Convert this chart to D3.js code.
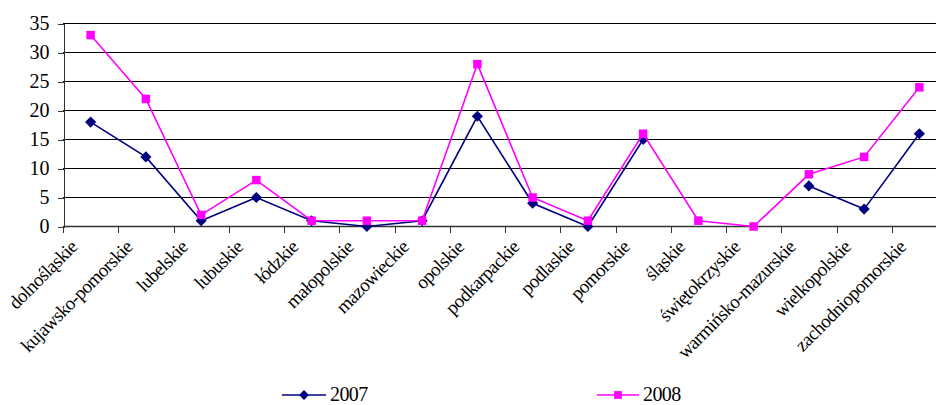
<!DOCTYPE html>
<html>
<head>
<meta charset="utf-8">
<script src="https://cdn.jsdelivr.net/npm/d3@7"></script>
<style>
  html, body { margin: 0; padding: 0; background: #fff; }
  svg { display: block; font-family: "Liberation Serif", "Times New Roman", serif; }
</style>
</head>
<body>
<svg id="chart" width="936" height="405"></svg>
<script>
// Voivodeships (categories)
const categories = [
  "dolnośląskie", "kujawsko-pomorskie", "lubelskie", "lubuskie", "łódzkie",
  "małopolskie", "mazowieckie", "opolskie", "podkarpackie", "podlaskie",
  "pomorskie", "śląskie", "świętokrzyskie", "warmińsko-mazurskie",
  "wielkopolskie", "zachodniopomorskie"
];
// Values per year (null = no value)
const values2007 = [18, 12, 1, 5, 1, 0, 1, 19, 4, 0, 15, null, null, 7, 3, 16];
const values2008 = [33, 22, 2, 8, 1, 1, 1, 28, 5, 1, 16, 1, 0, 9, 12, 24];
const yTicks = [0, 5, 10, 15, 20, 25, 30, 35];
const seriesNames = ["2007", "2008"];

const svg = d3.select("#chart");
const plotLeft = 63, plotRight = 947, plotTop = 23.5, plotBottom = 226.5;

const x = d3.scaleBand().domain(categories).range([plotLeft, plotRight]);
const y = d3.scaleLinear().domain([0, 35]).range([plotBottom, plotTop]);

// Horizontal gridlines
svg.append("g")
  .selectAll("line")
  .data(yTicks.filter(t => t > 0))
  .join("line")
  .attr("x1", plotLeft).attr("x2", plotRight)
  .attr("y1", d => y(d)).attr("y2", d => y(d))
  .attr("stroke", "#000").attr("stroke-width", 1)
  .attr("shape-rendering", "crispEdges");

// Y axis
const yAxis = svg.append("g")
  .attr("transform", `translate(${plotLeft + 0.5},0)`)
  .call(d3.axisLeft(y).tickValues(yTicks).tickSize(6).tickPadding(8));
yAxis.selectAll("path, line").attr("stroke", "#333").attr("shape-rendering", "crispEdges");
yAxis.selectAll("text")
  .attr("font-size", 20).attr("fill", "#000")
  .style("font-family", "'Liberation Serif', serif");

// X axis line with ticks at category boundaries
const xg = svg.append("g");
xg.append("line")
  .attr("x1", plotLeft).attr("x2", plotRight)
  .attr("y1", plotBottom).attr("y2", plotBottom)
  .attr("stroke", "#333").attr("stroke-width", 1.5);
const boundaries = categories.map(c => x(c)).concat([plotRight]);
xg.selectAll("line.tick")
  .data(boundaries)
  .join("line").attr("class", "tick")
  .attr("x1", d => Math.round(d) + 0.5).attr("x2", d => Math.round(d) + 0.5)
  .attr("y1", plotBottom).attr("y2", plotBottom + 6)
  .attr("stroke", "#333").attr("shape-rendering", "crispEdges");

// Rotated category labels
xg.selectAll("text")
  .data(categories)
  .join("text")
  .attr("transform", d => `translate(${x(d) + x.bandwidth() / 2 - 17},${plotBottom + 17}) rotate(-45)`)
  .attr("text-anchor", "end")
  .attr("dy", "0.35em")
  .attr("font-size", 19)
  .attr("letter-spacing", "-0.6px")
  .attr("fill", "#000")
  .text(d => d);

const cx = d => x(d) + x.bandwidth() / 2;

function drawSeries(vals, color, diamond) {
  const pts = categories.map((c, i) => ({ c, v: vals[i] }));
  const line = d3.line()
    .defined(d => d.v != null)
    .x(d => cx(d.c)).y(d => y(d.v));
  svg.append("path")
    .datum(pts)
    .attr("d", line)
    .attr("fill", "none")
    .attr("stroke", color)
    .attr("stroke-width", 1.6);
  const marker = d3.symbol().type(d3.symbolSquare).size(diamond ? 62 : 72);
  svg.append("g")
    .selectAll("path")
    .data(pts.filter(d => d.v != null))
    .join("path")
    .attr("transform", d => `translate(${cx(d.c)},${y(d.v)})` + (diamond ? " rotate(45)" : ""))
    .attr("d", marker())
    .attr("fill", color);
}

drawSeries(values2007, "#000080", true);
drawSeries(values2008, "#ff00ff", false);

// Legend
const legend = [
  { name: seriesNames[0], color: "#000080", x0: 282, x1: 326, diamond: true },
  { name: seriesNames[1], color: "#ff00ff", x0: 597, x1: 639, diamond: false }
];
const lg = svg.append("g");
legend.forEach(l => {
  lg.append("line")
    .attr("x1", l.x0).attr("x2", l.x1).attr("y1", 395).attr("y2", 395)
    .attr("stroke", l.color).attr("stroke-width", 1.6);
  lg.append("path")
    .attr("transform", `translate(${(l.x0 + l.x1) / 2},395)` + (l.diamond ? " rotate(45)" : ""))
    .attr("d", d3.symbol().type(d3.symbolSquare).size(l.diamond ? 50 : 60)())
    .attr("fill", l.color);
  lg.append("text")
    .attr("x", l.x1 + 4).attr("y", 401)
    .attr("font-size", 20)
    .attr("letter-spacing", "-0.6px")
    .attr("fill", "#000")
    .text(l.name);
});
</script>
</body>
</html>
